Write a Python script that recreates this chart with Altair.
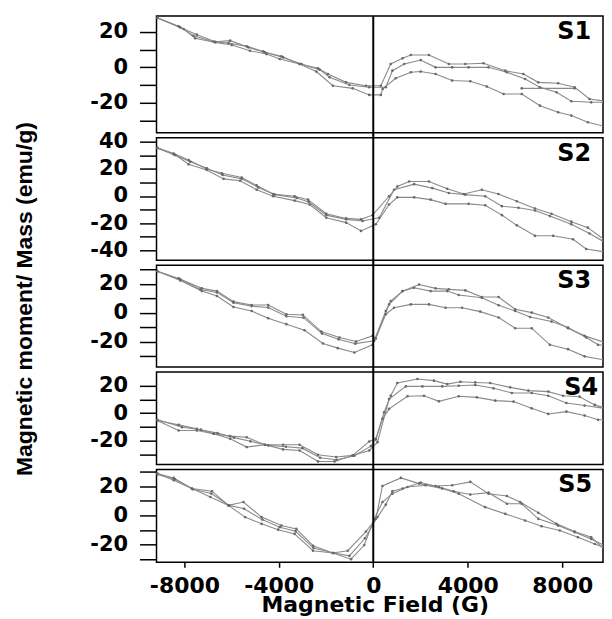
import altair as alt
import pandas as pd

# ---------------- data (Magnetic Field in G, moment/mass in emu/g) ----------------
S1_A_X = [-9150, -8170, -7470, -6690, -6060, -5290, -4590, -3890, -3120, -2340, -1920, -1150, -310, 320,
          740, 1240, 1590, 2360, 3200, 3900, 4670, 5590, 6360, 6990, 7830, 8530, 9160, 9940]
S1_A_Y = [28, 22.6, 18.5, 14.5, 15.1, 11.3, 8.5, 6.2, 1.9, -0.6, -3.8, -8.5, -10.4, -10.4,
          1.9, 5.1, 7.0, 7.0, 1.9, 1.9, 2.3, -1.9, -3.8, -8.5, -9.0, -11.3, -17.9, -19.4]
S1_B_X = [-9150, -8030, -7540, -6690, -5990, -5220, -4520, -3960, -3120, -2410, -1710, -870, -170, 320, 400,
          950, 1590, 2010, 2640, 3340, 4110, 4810, 5520, 6290, 7060, 7830, 8390, 9090, 9940]
S1_B_Y = [28, 21.7, 16.4, 14.1, 12.6, 9.4, 7.5, 4.7, 1.9, -2.4, -10.4, -11.9, -15.6, -15.6, -12.2,
          -6.2, -2.8, -2.4, -3.8, -7.5, -7.9, -10.9, -15.1, -15.1, -21.7, -25.4, -27.3, -31.1, -33.9]
S1_C_X = [-9150, -8240, -7610, -6760, -6130, -5360, -4660, -3820, -3040, -2270, -1850, -1010, -170, 530,
          810, 1310, 2010, 2640, 3340, 4040, 4880, 5660, 6430, 7060, 7760, 8390, 9230, 9940]
S1_C_Y = [28, 23.2, 17.9, 14.5, 13.7, 11.9, 9.0, 5.6, 1.9, -1.3, -5.6, -10.0, -11.3, -11.3,
          -1.9, 1.9, 4.1, 0, 0, 0, 0, -2.8, -6.6, -11.3, -14.1, -19.2, -19.8, -19.8]
S1_D_X = [6290, 8530]
S1_D_Y = [-11.9, -11.9]

S2_A_X = [-9150, -8450, -7820, -7050, -6410, -5570, -4940, -4240, -3330, -2760, -1990, -1150, -520, -30,
          670, 1020, 1520, 2360, 3130, 3830, 4600, 5300, 6080, 6850, 7550, 8390, 9090, 9940]
S2_A_Y = [35.4, 31.3, 26.4, 19.9, 16.7, 13.6, 7.8, 1.5, -0.2, -2.7, -13.1, -16.5, -17.2, -14.1,
          -0.2, 7.0, 10.7, 10.7, 5.3, 1.5, 4.6, 1.5, -3.9, -9.2, -13.1, -18.9, -23.3, -34.2]
S2_B_X = [-9150, -8380, -7820, -7050, -6340, -5640, -4940, -4240, -3330, -2690, -1990, -1150, -520, 110,
          670, 1020, 1730, 2430, 3060, 4040, 4740, 5450, 6080, 6850, 7620, 8460, 9020, 9940]
S2_B_Y = [35.4, 30.1, 23.3, 19.2, 12.6, 11.2, 4.6, -0.2, -3.4, -6.3, -16.0, -19.6, -25.7, -20.8,
          -6.3, -1.0, -1.0, -2.7, -5.8, -5.8, -6.8, -14.1, -21.6, -29.3, -29.3, -31.8, -39.0, -41.5]
S2_C_X = [-9150, -8450, -7750, -7050, -6380, -5570, -4870, -4170, -3240, -2730, -1990, -1150, -450, 250,
          880, 1730, 2500, 3200, 3900, 4740, 5450, 6150, 6850, 7480, 8390, 9160, 9940]
S2_C_Y = [35.4, 30.5, 25.2, 20.4, 15.5, 12.6, 6.3, 1.0, -1.5, -4.4, -14.1, -17.2, -18.4, -16.0,
          4.6, 8.7, 5.8, 2.2, 1.0, -0.2, -7.5, -8.7, -10.7, -14.8, -20.8, -27.6, -35.4]

S3_A_X = [-9150, -8170, -7330, -6620, -5920, -5150, -4450, -3680, -2950, -2170, -1470, -760, 40,
          530, 740, 1240, 1940, 2640, 3200, 3900, 4600, 5310, 6010, 6710, 7410, 8250, 8950, 9940]
S3_A_Y = [28.7, 23.0, 16.0, 14.0, 6.8, 4.5, 3.5, -2.5, -3.5, -14.5, -18.5, -21.5, -19.5,
          1.1, 8.0, 14.9, 19.5, 16.8, 16.1, 15.4, 10.8, 10.8, 2.3, 0, -3.4, -10.8, -16.1, -21.4]
S3_B_X = [-9150, -8240, -7260, -6620, -5920, -5150, -4450, -3680, -2980, -2200, -1430, -730, -30,
          110, 670, 1240, 1730, 2430, 3130, 3620, 4600, 5310, 6010, 6640, 7550, 8250, 9020, 9520, 9940]
S3_B_Y = [28.7, 23.7, 16.8, 14.9, 7.6, 5.3, 5.3, -1.1, -1.6, -13.1, -17.2, -20.0, -16.1,
          -18.0, 5.7, 14.9, 17.2, 14.9, 14.9, 12.2, 10.3, 5.1, 1.1, -3.0, -6.2, -10.3, -17.2, -22.3, -23.0]
S3_C_X = [-9150, -8170, -7260, -6620, -5920, -5150, -4450, -3680, -2910, -2130, -1500, -800, -30,
          530, 880, 1590, 2360, 3060, 3760, 4530, 5310, 6010, 6710, 7480, 8250, 8950, 9940]
S3_C_Y = [28.7, 22.3, 14.9, 11.5, 3.9, 1.1, -3.9, -8.0, -12.2, -21.4, -24.6, -27.6, -22.3,
          -1.1, 3.4, 5.7, 5.7, 3.4, 3.4, 0.7, -3.4, -10.8, -10.8, -22.3, -25.3, -30.3, -33.3]

S4_A_X = [-9150, -8240, -7470, -6760, -6060, -5360, -4590, -3820, -3120, -2340, -1570, -870, -170, 110,
          460, 740, 1020, 1870, 2570, 3130, 3690, 4320, 4950, 5800, 6570, 7410, 8040, 8740, 9380, 9940]
S4_A_Y = [-5.3, -12.6, -12.6, -15.0, -18.7, -24.7, -23.0, -23.0, -23.0, -30.3, -32.0, -30.8, -20.6, -18.7,
          0.7, 12.8, 22.1, 25.0, 23.8, 21.3, 23.0, 22.5, 22.1, 18.9, 16.5, 15.8, 12.8, 12.1, 6.1, 3.2]
S4_B_X = [-9150, -8240, -7470, -6760, -6060, -5360, -4590, -3820, -3120, -2340, -1640, -870, -170, 180,
          670, 1380, 2080, 2920, 3620, 4320, 5090, 5870, 6710, 7410, 8180, 8950, 9940]
S4_B_Y = [-5.3, -8.5, -11.4, -15.0, -16.7, -17.5, -23.0, -26.4, -27.2, -35.2, -35.2, -30.8, -27.2, -21.1,
          10.4, 19.6, 19.6, 19.6, 20.1, 20.6, 18.2, 14.8, 14.8, 12.8, 7.5, 5.6, 3.2]
S4_C_X = [-9150, -8100, -7300, -6600, -5900, -5200, -4450, -3700, -3000, -2250, -1550, -800, -100, 110,
          390, 670, 1450, 2150, 2780, 3620, 4390, 5170, 5940, 6710, 7410, 8180, 8950, 9520, 9940]
S4_C_Y = [-4.6, -10.2, -12.0, -14.5, -17.8, -20.5, -23.5, -24.5, -25.5, -32.5, -34.0, -31.0, -24.0, -19.2,
          -4.1, 3.2, 12.4, 12.8, 8.7, 12.4, 11.6, 9.2, 8.5, 3.6, -0.5, 1.2, -1.7, -4.8, -4.8]

S5_A_X = [-9150, -8450, -7680, -6830, -6130, -5500, -4730, -3890, -3260, -2550, -1710, -1080, -310, 110,
          390, 1170, 1940, 2640, 3340, 4110, 4880, 5660, 6220, 6990, 7760, 8530, 9230, 9940]
S5_A_Y = [28.7, 25.7, 18.4, 16.6, 6.9, 9.2, -1.1, -6.9, -9.2, -20.7, -25.7, -24.1, -11.0, -2.3,
          20.2, 25.7, 21.8, 20.2, 20.7, 23.0, 14.9, 13.3, 9.2, 1.8, -5.7, -11.0, -14.9, -25.3]
S5_B_X = [-9150, -8400, -7640, -6860, -6100, -5470, -4700, -3960, -3290, -2530, -1680, -1010, -350, 180,
          530, 810, 1240, 2010, 2780, 3410, 4110, 4880, 5660, 6290, 6990, 7830, 8530, 9230, 9940]
S5_B_Y = [28.0, 24.8, 17.9, 15.0, 6.9, 4.6, -2.8, -8.0, -10.8, -22.3, -25.7, -27.6, -15.6, -1.1,
          7.4, 16.6, 18.4, 22.5, 19.5, 16.6, 14.3, 15.6, 8.0, 8.0, -2.3, -6.9, -11.5, -16.1, -21.8]
S5_C_X = [-9150, -8450, -7680, -6900, -6130, -5430, -4730, -4030, -3330, -2550, -1710, -940, -380, 40,
          390, 810, 1450, 2220, 2920, 3620, 4740, 5590, 6430, 7130, 7900, 8670, 9380, 9940]
S5_C_Y = [28.7, 24.1, 18.4, 12.6, 6.9, -1.1, -5.7, -9.7, -12.6, -24.1, -25.7, -29.9, -20.2, -2.3,
          9.2, 14.9, 19.5, 20.7, 18.4, 14.9, 5.7, 1.1, -3.4, -7.4, -10.3, -14.9, -19.5, -23.0]

PANEL_NAMES = ["S1", "S2", "S3", "S4", "S5"]
Y_DOMAINS = [[-37, 29], [-47.3, 42.9], [-37.6, 32.8], [-37.5, 30.2], [-32, 31.4]]
Y_TICKS = [
    [20, 10, 0, -10, -20, -30],
    [40, 30, 20, 10, 0, -10, -20, -30, -40],
    [30, 20, 10, 0, -10, -20, -30],
    [20, 10, 0, -10, -20, -30],
    [30, 20, 10, 0, -10, -20, -30],
]
X_DOMAIN = [-9180, 9730]
X_TICKS = [-8000, -4000, 0, 4000, 8000]
X_TITLE = "Magnetic Field (G)"
Y_TITLE = "Magnetic moment/ Mass (emu/g)"

CURVES = [
    [(S1_A_X, S1_A_Y), (S1_B_X, S1_B_Y), (S1_C_X, S1_C_Y), (S1_D_X, S1_D_Y)],
    [(S2_A_X, S2_A_Y), (S2_B_X, S2_B_Y), (S2_C_X, S2_C_Y)],
    [(S3_A_X, S3_A_Y), (S3_B_X, S3_B_Y), (S3_C_X, S3_C_Y)],
    [(S4_A_X, S4_A_Y), (S4_B_X, S4_B_Y), (S4_C_X, S4_C_Y)],
    [(S5_A_X, S5_A_Y), (S5_B_X, S5_B_Y), (S5_C_X, S5_C_Y)],
]

# ---------------- layout / style ----------------
PANEL_W = 448
PANEL_H = [117, 123, 102, 93, 93]
GAP = 5
LABEL_RIGHT = [12, 12, 12, 5, 11]
BOLD = "DejaVu Sans"
TITLE_W = 30
TITLE_GAP = 113

X_LABEL_EXPR = "(datum.value < 0 ? '-' : '') + abs(datum.value)"
Y_LABEL_EXPR = "datum.value % 20 == 0 ? ((datum.value < 0 ? '-' : '') + abs(datum.value)) : ''"

panels = []
n = len(PANEL_NAMES)
for k in range(n):
    rows = []
    for c, (xs, ys) in enumerate(CURVES[k]):
        for i, (xv, yv) in enumerate(zip(xs, ys)):
            rows.append({"curve": c, "i": i, "x": xv, "y": yv})
    df = pd.DataFrame(rows)
    h = PANEL_H[k]
    last = k == n - 1

    xscale = alt.Scale(domain=X_DOMAIN, nice=False, zero=False)
    yscale = alt.Scale(domain=Y_DOMAINS[k], nice=False, zero=False)

    if last:
        xaxis = alt.Axis(values=X_TICKS, labelExpr=X_LABEL_EXPR, grid=False, domain=False,
                         tickSize=5, tickWidth=1.5, tickColor="black",
                         labelFont=BOLD, labelFontWeight="bold", labelFontSize=22, labelColor="black",
                         labelPadding=8, labelOverlap=False, labelFlush=False,
                         title=X_TITLE, titleFont=BOLD, titleFontWeight="bold", titleFontSize=22,
                         titleColor="black", titlePadding=-2, titleX=219)
    else:
        xaxis = None

    yaxis = alt.Axis(values=Y_TICKS[k], labelExpr=Y_LABEL_EXPR, grid=False, domain=False,
                     tickSize=17, tickWidth=1.5, tickColor="black",
                     labelFont=BOLD, labelFontWeight="bold", labelFontSize=21, labelColor="black",
                     labelPadding=12, labelOverlap=False, labelFlush=False, title=None)

    xenc = alt.X("x:Q", scale=xscale, axis=xaxis)

    lines = alt.Chart(df).mark_line(
        color="#8a8a8a", strokeWidth=1.1, clip=True,
        point=alt.OverlayMarkDef(filled=True, size=7, color="#6a6a6a", clip=True),
    ).encode(
        x=xenc,
        y=alt.Y("y:Q", scale=yscale, axis=yaxis),
        detail="curve:N",
        order="i:Q",
    )

    top = 0 if k == 0 else -3
    bot = h if last else h + 3
    zero_rule = alt.Chart(pd.DataFrame({"x": [0]})).mark_rule(color="black", strokeWidth=2).encode(
        x=xenc,
        y=alt.value(top),
        y2=alt.value(bot),
    )

    name = alt.Chart(pd.DataFrame({"t": [PANEL_NAMES[k]]})).mark_text(
        align="right", baseline="alphabetic", font=BOLD, fontWeight="bold", fontSize=24, color="black"
    ).encode(
        text="t:N",
        x=alt.value(PANEL_W - LABEL_RIGHT[k]),
        y=alt.value(23),
    )

    panels.append(alt.layer(lines, zero_rule, name).properties(width=PANEL_W, height=h))

stack = alt.vconcat(*panels, spacing=GAP, bounds="flush")

total_h = sum(PANEL_H) + GAP * (n - 1)
ytitle = alt.Chart(pd.DataFrame({"t": [Y_TITLE]})).mark_text(
    angle=270, align="center", baseline="top", font="Liberation Sans", fontWeight="bold",
    fontSize=23, color="black"
).encode(
    text="t:N",
    x=alt.value(0),
    y=alt.value(284),
).properties(width=TITLE_W, height=total_h, view=alt.ViewBackground(stroke="transparent"))

chart = alt.hconcat(ytitle, stack, spacing=TITLE_GAP, bounds="flush").properties(
    padding={"left": 5, "top": 5, "right": 0, "bottom": 58},
    background="white",
).configure_view(stroke="black", strokeWidth=1.5)

chart.save("out.html", embed_options={"renderer": "svg", "actions": False})
